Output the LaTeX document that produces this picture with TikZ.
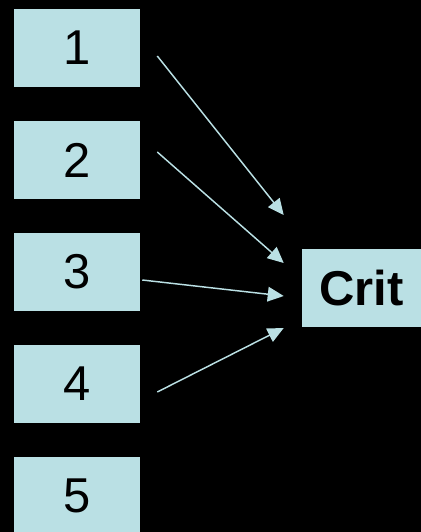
\documentclass[tikz,border=0pt]{standalone}
\usepackage{fontspec}
\setmainfont{Liberation Sans}
\usetikzlibrary{arrows.meta}
\usetikzlibrary{calc}
\definecolor{boxcyan}{RGB}{186,224,228}
\tikzset{
  numbox/.style={draw=none, fill=boxcyan, minimum width=94.5pt, minimum height=58.5pt, inner sep=0pt, font=\fontsize{36.7}{40}\selectfont},
  critbox/.style={numbox, minimum width=89.25pt, font=\fontsize{36.7}{40}\selectfont\bfseries},
  conn/.style={draw=boxcyan, line width=1.1pt, -{Triangle[length=12pt,width=11pt]}}
}
\begin{document}
\begin{tikzpicture}[x=0.75pt,y=0.75pt,yscale=-1,xscale=1]
%set diagram to 421 x 532, black background
\fill[black] (0,0) rectangle (421,532);
\useasboundingbox (0,0) rectangle (421,532);
\clip (0,0) rectangle (421,532);

% Boxes
\node[numbox] (b1) at (77,48) {1};
\node[numbox] (b2) at (77,160) {2};
\node[numbox] (b3) at (77,272) {3};
\node[numbox] (b4) at (77,384) {4};
\node[numbox] (b5) at (77,496) {5};
% Criterion box
\node[critbox] (crit) at (361.5,288) {Crit};

% Arrows
\draw[conn] ($(b1.east)+(17,8)$) -- ($(crit.west)+(-18,-73)$);
\draw[conn] ($(b2.east)+(17,-8)$) -- ($(crit.west)+(-18,-25)$);
\draw[conn] ($(b3.east)+(2,8)$) -- ($(crit.west)+(-18,8)$);
\draw[conn] ($(b4.east)+(17,8)$) -- ($(crit.west)+(-18,40)$);

\end{tikzpicture}
\end{document}
